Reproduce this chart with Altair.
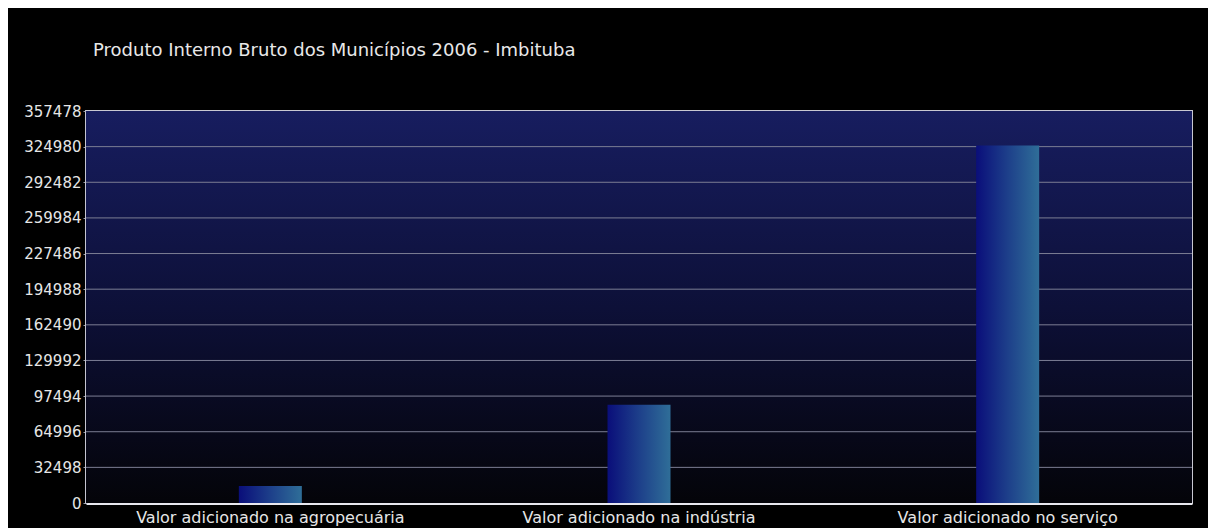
import altair as alt
import pandas as pd

categories = ["Valor adicionado na agropecuária", "Valor adicionado na indústria", "Valor adicionado no serviço"]
values = [15500, 89500, 326000]

tick_values = [0, 32498, 64996, 97494, 129992, 162490, 194988, 227486, 259984, 292482, 324980, 357478]

title_text = "Produto Interno Bruto dos Municípios 2006 - Imbituba"

FONT = "DejaVu Sans"

yscale = alt.Scale(domain=[0, tick_values[-1]], nice=False, zero=True)

bg_grad = alt.Gradient(
    gradient="linear", x1=0, y1=0, x2=0, y2=1,
    stops=[alt.GradientStop(color="#171d5f", offset=0),
           alt.GradientStop(color="#0d1038", offset=0.5),
           alt.GradientStop(color="#040409", offset=1)],
)
bar_grad = alt.Gradient(
    gradient="linear", x1=0, y1=0, x2=1, y2=0,
    stops=[alt.GradientStop(color="#0a0e7a", offset=0),
           alt.GradientStop(color="#1d3f8a", offset=0.5),
           alt.GradientStop(color="#2f6e98", offset=1)],
)

y_axis = alt.Axis(values=tick_values, format="d",
                  labelFont=FONT, labelFontSize=15, labelColor="#e6e6e6",
                  domainColor="#c4c4d0", domainWidth=3, tickColor="#9a9aa8",
                  tickSize=3, labelPadding=2, grid=False, labelOverlap=False)

bg = alt.Chart(pd.DataFrame({"a": [0]})).mark_rect(color=bg_grad).encode(
    x=alt.value(0), x2=alt.value("width"), y=alt.value(0), y2=alt.value("height")
)

grid = alt.Chart(pd.DataFrame({"valor": tick_values[1:-1]})).mark_rule(
    color="#7c7e94", strokeWidth=1
).encode(y=alt.Y("valor:Q", scale=yscale, title=None, axis=y_axis))

df = pd.DataFrame({"cat": categories, "valor": values})

bars = alt.Chart(df).mark_bar(color=bar_grad, size=63).encode(
    x=alt.X("cat:N", sort=categories, title=None,
            axis=alt.Axis(labelAngle=0, ticks=False, labelPadding=6, labelFont=FONT,
                          labelFontSize=16, labelColor="#e6e6e6", domainColor="#e8e8ee",
                          domainWidth=3, grid=False, labelLimit=0)),
    y=alt.Y("valor:Q", scale=yscale, title=None, axis=y_axis),
)

chart = alt.layer(bg, grid, bars).properties(
    width=1106, height=392,
    padding={"left": 78, "top": 103, "right": 16, "bottom": 25},
    autosize=alt.AutoSizeParams(type="none"),
    background="black",
    title=alt.TitleParams(title_text, anchor="start", frame="group", fontSize=18, font=FONT,
                          fontWeight="normal", color="#e8e8e8", offset=44, dx=7),
).configure_view(stroke="#c8c8d2", strokeWidth=2)

chart.save("out.html", embed_options={"renderer": "svg", "actions": False})
